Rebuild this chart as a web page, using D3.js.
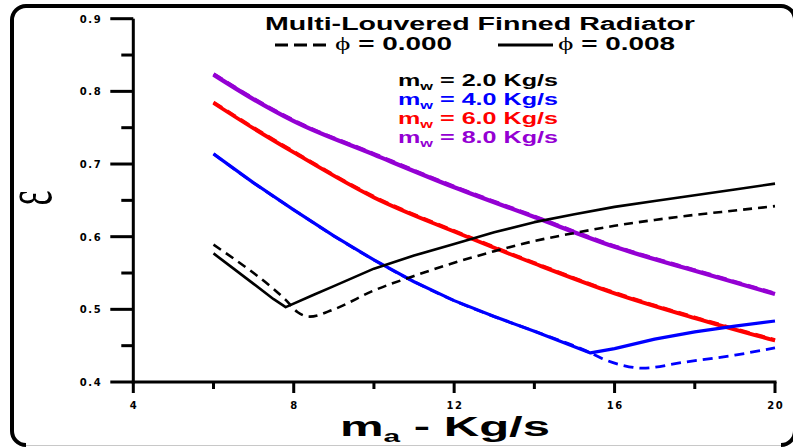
<!DOCTYPE html>
<html>
<head>
<meta charset="utf-8">
<script src="https://cdn.jsdelivr.net/npm/d3@7"></script>
<style>
  html, body { margin: 0; padding: 0; background: #fff; }
  svg { display: block; }
</style>
</head>
<body>
<svg id="chart" width="793" height="447"></svg>
<script>
// Air mass flow rate (kg/s) and effectiveness for each water flow rate
const xTicksMajor = [4, 8, 12, 16, 20];
const xTicksMinor = [6, 10, 14, 18];
const yTicksMajor = [0.4, 0.5, 0.6, 0.7, 0.8, 0.9];
const yTicksMinor = [0.45, 0.55, 0.65, 0.75, 0.85];

// m_w = 2.0 kg/s
const ma2Solid  = [6, 6.5, 7, 7.5, 7.8, 8.5, 9, 10, 11, 12, 13, 14, 15, 16, 17, 18, 19, 20];
const eps2Solid = [0.577, 0.556, 0.535, 0.514, 0.503, 0.520, 0.532, 0.556, 0.574, 0.590, 0.606, 0.620, 0.631, 0.641, 0.649, 0.657, 0.665, 0.673];
const ma2Dash   = [6, 6.5, 7, 7.5, 7.8, 8.1, 8.4, 9, 10, 11, 12, 13, 14, 15, 16, 17, 18, 19, 20];
const eps2Dash  = [0.589, 0.570, 0.550, 0.528, 0.513, 0.496, 0.490, 0.500, 0.526, 0.546, 0.564, 0.580, 0.594, 0.605, 0.615, 0.623, 0.630, 0.636, 0.642];

// m_w = 4.0 kg/s
const ma4Solid  = [6, 7, 8, 9, 10, 11, 12, 13, 14, 15.4, 16, 17, 18, 19, 20];
const eps4Solid = [0.714, 0.674, 0.637, 0.601, 0.568, 0.538, 0.512, 0.490, 0.470, 0.440, 0.446, 0.459, 0.469, 0.477, 0.484];
const ma4Dash   = [6, 7, 8, 9, 10, 11, 12, 13, 14, 15.4, 15.7, 16.2, 16.7, 17.7, 19, 20];
const eps4Dash  = [0.714, 0.674, 0.637, 0.601, 0.568, 0.538, 0.512, 0.490, 0.470, 0.440, 0.432, 0.423, 0.419, 0.427, 0.437, 0.447];

// m_w = 6.0 kg/s
const ma6       = [6, 7, 8, 10, 12, 14, 16, 18, 20];
const eps6Solid = [0.784, 0.749, 0.716, 0.654, 0.607, 0.563, 0.522, 0.488, 0.457];
const eps6Dash  = [0.785, 0.750, 0.717, 0.655, 0.608, 0.564, 0.523, 0.489, 0.458];

// m_w = 8.0 kg/s
const ma8       = [6, 7, 8, 10, 12, 14, 16, 18, 20];
const eps8Solid = [0.823, 0.789, 0.759, 0.713, 0.668, 0.627, 0.586, 0.553, 0.521];
const eps8Dash  = [0.824, 0.790, 0.760, 0.714, 0.669, 0.628, 0.587, 0.554, 0.522];

const legendLabels = ["2.0 Kg/s", "4.0 Kg/s", "6.0 Kg/s", "8.0 Kg/s"];
const seriesColors = ["#000000", "#0000ff", "#ff0000", "#9400d3"];

const svg = d3.select("#chart");
const x = d3.scaleLinear().domain([4, 20]).range([133.3, 775]);
const y = d3.scaleLinear().domain([0.4, 0.9]).range([382, 18.7]);

// rounded outer frame
svg.append("path")
  .attr("d", "M26,445 A14,14 0 0 1 12,431 L12,20 A14,14 0 0 1 26,6 L781,6 A14,14 0 0 1 795,20 L795,431 A14,14 0 0 1 781,445")
  .attr("fill", "none").attr("stroke", "#000").attr("stroke-width", 4);
svg.append("rect").attr("x", 26).attr("y", 445).attr("width", 755).attr("height", 1)
  .attr("fill", "#c8c8c8");

// axes: axis bars and tick marks as filled rectangles positioned by the scales
const x0 = x(4), y0 = y(0.4);
const bars = [
  { x: x0 - 1.5, y: y(0.9), w: 3, h: y0 - y(0.9) + 1.5 },
  { x: x0 - 1.5, y: y0 - 1.5, w: x(20) - x0 + 3, h: 3 }
];
xTicksMajor.forEach(d => bars.push({ x: x(d) - 1.5, y: y0, w: 3, h: 11 }));
xTicksMinor.forEach(d => bars.push({ x: x(d) - 1.5, y: y0, w: 3, h: 7 }));
yTicksMajor.forEach(d => bars.push({ x: x0 - 23, y: y(d) - 1.5, w: 23, h: 3 }));
yTicksMinor.forEach(d => bars.push({ x: x0 - 12, y: y(d) - 1.5, w: 12, h: 3 }));
svg.append("g").selectAll("rect").data(bars).join("rect")
  .attr("x", d => d.x).attr("y", d => d.y).attr("width", d => d.w).attr("height", d => d.h)
  .attr("fill", "#000");

const tickFont = "'DejaVu Sans', sans-serif";
const labels = svg.append("g")
  .style("font-family", tickFont).style("font-weight", "bold").style("font-size", "10px")
  .style("letter-spacing", "1.6px");
labels.selectAll(".xl").data(xTicksMajor).join("text").attr("class", "xl")
  .attr("x", d => x(d) + 0.8).attr("y", y0 + 27).attr("text-anchor", "middle")
  .text(d3.format("d"));
labels.selectAll(".yl").data(yTicksMajor).join("text").attr("class", "yl")
  .attr("x", x0 - 31).attr("y", d => y(d) + 4).attr("text-anchor", "end")
  .text(d3.format(".1f"));

// curves
const smooth = d3.line().x(d => x(d[0])).y(d => y(d[1])).curve(d3.curveMonotoneX);
const straight = d3.line().x(d => x(d[0])).y(d => y(d[1]));
const zip = (a, b) => a.map((v, i) => [v, b[i]]);
const curves = [
  { xs: ma8, ys: eps8Dash, c: seriesColors[3], dash: "10,6", w: 3.6, gen: smooth },
  { xs: ma8, ys: eps8Solid, c: seriesColors[3], dash: null, w: 4.2, gen: smooth },
  { xs: ma6, ys: eps6Dash, c: seriesColors[2], dash: "10,6", w: 3.4, gen: smooth },
  { xs: ma6, ys: eps6Solid, c: seriesColors[2], dash: null, w: 3.8, gen: smooth },
  { xs: ma4Dash, ys: eps4Dash, c: seriesColors[1], dash: "10,6", w: 2.8, gen: smooth },
  { xs: ma4Solid, ys: eps4Solid, c: seriesColors[1], dash: null, w: 3.2, gen: straight },
  { xs: ma2Dash, ys: eps2Dash, c: seriesColors[0], dash: "9,6", w: 2.6, gen: smooth },
  { xs: ma2Solid, ys: eps2Solid, c: seriesColors[0], dash: null, w: 2.6, gen: straight }
];
svg.append("g").selectAll("path").data(curves).join("path")
  .attr("d", d => d.gen(zip(d.xs, d.ys)))
  .attr("fill", "none")
  .attr("stroke", d => d.c)
  .attr("stroke-width", d => d.w)
  .attr("stroke-dasharray", d => d.dash)
  .attr("stroke-linejoin", "round");

// legend
const font = "'Liberation Sans', Arial, sans-serif";
svg.append("text").attr("x", 265).attr("y", 30)
  .attr("textLength", 430).attr("lengthAdjust", "spacingAndGlyphs")
  .style("font-family", font).style("font-weight", "bold").style("font-size", "18px")
  .text("Multi-Louvered Finned Radiator");

svg.append("path").attr("d", "M275,45 L332,45")
  .attr("stroke", "#000").attr("stroke-width", 3).attr("stroke-dasharray", "13,6");
svg.append("path").attr("d", "M498,45 L553,45")
  .attr("stroke", "#000").attr("stroke-width", 3);

function phiLabel(xs, value) {
  const t = svg.append("text").attr("x", xs).attr("y", 50)
    .attr("textLength", 117).attr("lengthAdjust", "spacingAndGlyphs")
    .style("font-family", font).style("font-weight", "bold").style("font-size", "18px");
  t.append("tspan").style("font-family", "'Liberation Serif', serif").style("font-weight", "normal").style("font-size", "19px").text("ϕ");
  t.append("tspan").text(" = " + value);
}
phiLabel(335, "0.000");
phiLabel(558, "0.008");

legendLabels.forEach((lab, i) => {
  const t = svg.append("text").attr("x", 398).attr("y", 86 + i * 19)
    .attr("textLength", 160).attr("lengthAdjust", "spacingAndGlyphs")
    .attr("fill", seriesColors[i])
    .style("font-family", font).style("font-weight", "bold").style("font-size", "17px");
  t.append("tspan").text("m");
  t.append("tspan").attr("dy", 4).style("font-size", "11px").text("w");
  t.append("tspan").attr("dy", -4).text(" = " + lab);
});

// axis titles
const xt = svg.append("text").attr("x", 340).attr("y", 436)
  .attr("textLength", 210).attr("lengthAdjust", "spacingAndGlyphs")
  .style("font-family", font).style("font-weight", "bold").style("font-size", "28px");
xt.append("tspan").text("m");
xt.append("tspan").attr("dy", 6).style("font-size", "17px").text("a");
xt.append("tspan").attr("dy", -6).text(" - Kg/s");

svg.append("text")
  .attr("transform", "translate(36,198) rotate(-90) scale(1,1.9)")
  .attr("text-anchor", "middle").attr("y", 8)
  .style("font-family", "'Liberation Serif', serif").style("font-size", "36px")
  .text("ε");
</script>
</body>
</html>
